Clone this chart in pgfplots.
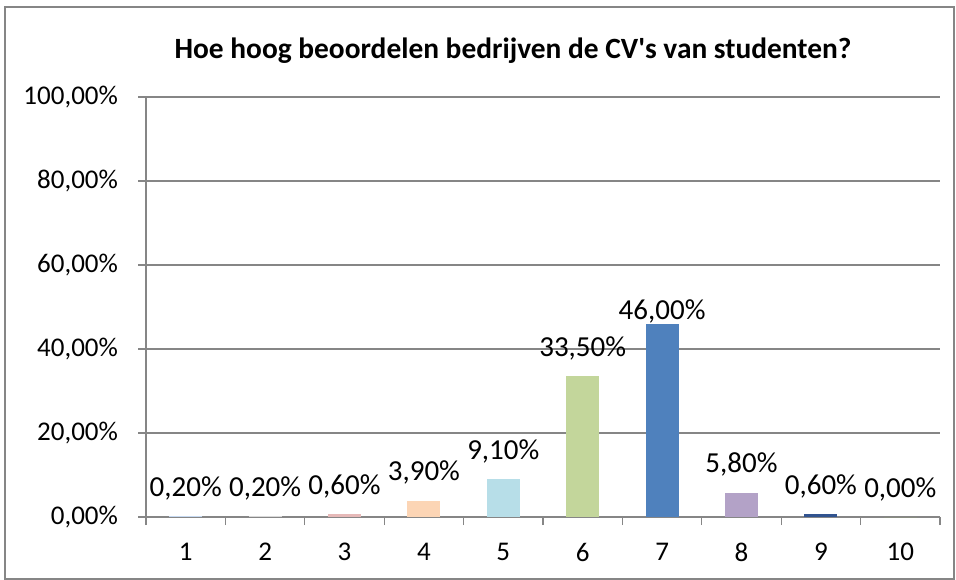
\documentclass[border=0pt]{standalone}
\usepackage{fontspec}
\setmainfont{Carlito}
\usepackage{pgfplots}
\pgfplotsset{compat=1.18}
\definecolor{gridc}{HTML}{868686}
\definecolor{cA}{HTML}{C6D9F1}
\definecolor{cB}{HTML}{D9D9D9}
\definecolor{cC}{HTML}{E6B9B8}
\definecolor{cD}{HTML}{FCD5B5}
\definecolor{cE}{HTML}{B7DEE8}
\definecolor{cF}{HTML}{C3D69B}
\definecolor{cG}{HTML}{4F81BD}
\definecolor{cH}{HTML}{B3A2C7}
\definecolor{cI}{HTML}{31538F}
\definecolor{cJ}{HTML}{9BBB59}
\begin{document}
\begin{tikzpicture}
\path[use as bounding box] (0,0) rectangle (478pt,-289.5pt);
\draw[gridc,line width=0.6pt] (2.5pt,-3.5pt) rectangle (477pt,-289.5pt);
\node[font=\fontsize{14.7}{17}\selectfont\bfseries] at (256.5pt,-25.5pt) {Hoe hoog beoordelen bedrijven de CV\textquotesingle s van studenten?};
\begin{axis}[
  at={(73pt,-258.5pt)}, anchor=south west,
  scale only axis, width=397pt, height=210pt,
  ybar, bar width=16.5pt, bar shift=0pt,
  xmin=0.5, xmax=10.5, ymin=0, ymax=100,
  xtick={1,...,10}, major x tick style={draw=none},
  minor xtick={0.5,1.5,...,10.5},
  ytick={0,20,40,60,80,100},
  yticklabels={{0,00\%},{20,00\%},{40,00\%},{60,00\%},{80,00\%},{100,00\%}},
  /pgf/number format/assume math mode=true,
  tick align=outside, tick pos=left,
  major tick length=4pt, minor tick length=4pt,
  tick style={gridc,line width=0.6pt},
  axis x line*=bottom, axis y line*=left,
  axis line style={gridc,line width=0.6pt},
  ymajorgrids, grid style={gridc,line width=0.6pt},
  tick label style={font=\fontsize{13.5}{16}\selectfont},
  yticklabel style={xshift=-6.5pt},
  xticklabel style={yshift=-5.5pt},
  point meta=explicit symbolic,
  nodes near coords={\pgfplotspointmeta},
  every node near coord/.append style={font=\fontsize{14.5}{17}\selectfont,black,yshift=4.5pt},
]
\addplot[fill=cA,draw=none] coordinates {(1,0.2) [0,20\%]};
\addplot[fill=cB,draw=none] coordinates {(2,0.2) [0,20\%]};
\addplot[fill=cC,draw=none] coordinates {(3,0.6) [0,60\%]};
\addplot[fill=cD,draw=none] coordinates {(4,3.9) [3,90\%]};
\addplot[fill=cE,draw=none] coordinates {(5,9.1) [9,10\%]};
\addplot[fill=cF,draw=none] coordinates {(6,33.5) [33,50\%]};
\addplot[fill=cG,draw=none,every node near coord/.append style={yshift=-7.5pt}] coordinates {(7,46.0) [46,00\%]};
\addplot[fill=cH,draw=none] coordinates {(8,5.8) [5,80\%]};
\addplot[fill=cI,draw=none] coordinates {(9,0.6) [0,60\%]};
\addplot[fill=cJ,draw=none] coordinates {(10,0.0) [0,00\%]};
\end{axis}
\end{tikzpicture}
\end{document}
